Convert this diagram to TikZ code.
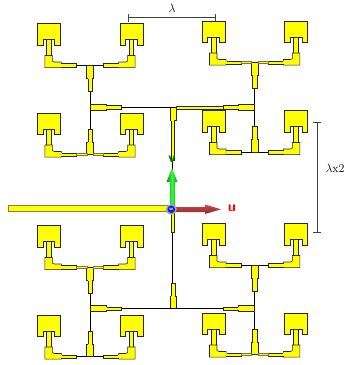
\documentclass[tikz,border=0pt]{standalone}
\usepackage{amsmath}
\usepackage{xcolor}
\usepackage{tikz}
\definecolor{patch}{rgb}{1.0, 1.0, 0.0}
\definecolor{axisv}{rgb}{0.13, 0.72, 0.25}
\definecolor{axisu}{rgb}{0.78, 0.22, 0.22}
\definecolor{axisw}{rgb}{0.05, 0.15, 0.85}
\definecolor{dimline}{rgb}{0.25, 0.25, 0.25}
\tikzset{
	copper/.style={fill=patch, draw=black!85, line width=0.55pt, line join=miter},
	wire/.style={draw=black, line width=0.9pt},
	dimension/.style={draw=dimline, line width=0.8pt},
	% one patch with its feed and corner, left hand version
	element/.pic={
		\path[copper] (-11.5,-41.5) -- (11.5,-41.5) -- (11.5,-20) -- (5.8,-20) -- (5.8,-25.5)
			-- (-5.8,-25.5) -- (-5.8,-20) -- (-11.5,-20) -- cycle;
		\path[copper] (-2.4,-25.5) rectangle (2.4,-9);
		\path[copper] (-3.9,-9.5) -- (3.6,-9.5) -- (3.6,-4) -- (5.5,-3) -- (12.7,-3)
			-- (12.7,2.7) -- (-3.9,2.7) -- cycle;
		\path[copper] (12.7,-1.7) rectangle (27.7,1.9);
		\fill[patch] (12.2,-1.4) rectangle (13.2,1.6);
		\draw[wire] (27.7,0) -- (41.3,0);
	},
	% four elements, two rows, stem in the middle
	subarray/.pic={
		\draw[wire] (0,0) -- (0,89.5);
		\path (-41.3,0) pic {element};
		\path (41.3,0) pic[xscale=-1] {element};
		\path (-41.3,89.5) pic {element};
		\path (41.3,89.5) pic[xscale=-1] {element};
		% stem sections
		\path[copper] (-2.2,12) rectangle (2.2,26);
		\path[copper] (-3.3,0) rectangle (3.3,13);
		\fill[patch] (-1.9,12.5) rectangle (1.9,13.5);
		\path[copper] (-2.2,64) rectangle (2.2,78);
		\path[copper] (-3.3,77) rectangle (3.3,89.5);
		\fill[patch] (-1.9,76.5) rectangle (1.9,77.5);
	},
	% stub from the stem to the center feed
	stub/.pic={
		\path[copper] (15,-1.8) rectangle (31,1.8);
		\path[copper] (0,-3) rectangle (16,3);
		\fill[patch] (15.5,-1.5) rectangle (16.5,1.5);
	},
	% yellow trace over a row wire
	rowtrace/.style={copper, draw=black!60!yellow, line width=0.4pt},
}
\begin{document}
\begin{tikzpicture}[x=1pt, y=-1pt]
\useasboundingbox (0,0) rectangle (346,365);
\fill[white] (0,0) rectangle (346,365);

% center feed
\draw[wire] (172.8,107) -- (172.8,308.5);
\path[copper] (171,120) rectangle (174.6,160);
\path[copper] (171.4,212) rectangle (174.2,232);
\path[copper] (170.8,283) rectangle (174.8,297);
\path[copper] (169.8,296) rectangle (175.8,308.5);
\path[copper] (169.8,107) rectangle (175.8,120);
\fill[patch] (171.3,119.5) rectangle (174.3,120.5);
\fill[patch] (171.1,295.5) rectangle (174.5,297);

% horizontal lines to the subarrays
\draw[wire] (90,107.5) -- (254.7,107.5);
\draw[wire] (90,308.7) -- (254.7,308.7);
\path[copper] (176,105.9) rectangle (224,109.1);

% subarrays
\path (90,65) pic {subarray};
\path (254.7,62.5) pic {subarray};
\path (90,267) pic {subarray};
\path (254.7,265) pic {subarray};

% rows that stay yellow up to the tee
\path[rowtrace] (76.4,153.5) rectangle (86.7,155.5);
\path[rowtrace] (93.3,153.5) rectangle (103.6,155.5);
\path[rowtrace] (241,61.5) rectangle (251.4,63.5);
\path[rowtrace] (258,61.5) rectangle (268.4,63.5);
\path[rowtrace] (76.4,266) rectangle (86.7,268);
\path[rowtrace] (93.3,266) rectangle (103.6,268);
\path[rowtrace] (241,353.5) rectangle (251.4,355.5);
\path[rowtrace] (258,353.5) rectangle (268.4,355.5);

% stubs
\path (90,107.5) pic {stub};
\path (254.7,107.5) pic[xscale=-1] {stub};
\path (90,308.7) pic {stub};
\path (254.7,308.7) pic[xscale=-1] {stub};

% main feed
\path[copper, draw=black!55!yellow] (8,205.6) rectangle (168,210.8);

% axis arrows
\shade[left color=axisv!70!black, right color=axisv!70!black, middle color=green!80!white]
	(170,208) -- (170,182) -- (166.5,182) -- (172,168) -- (177.5,182) -- (175,182) -- (175,208) -- cycle;
\shade[top color=axisu!90!white, bottom color=axisu!70!black]
	(172,207) -- (205,207) -- (205,204.5) -- (221,209.3) -- (205,214) -- (205,212) -- (172,212) -- cycle;
\fill[gray!70] (171.3,209.3) circle (5.5);
\fill[axisw] (171.3,209.3) circle (3.8);
\node[text=white, font=\sffamily\bfseries, scale=0.5] (labelw) at (171.3,209) {w};
\node[text=green!50!black, font=\sffamily\bfseries, scale=1.45] (labelv) at (172,159.5) {v};
\node[text=red, font=\sffamily\bfseries, scale=1.45] (labelu) at (232,208) {u};

% dimensions
\draw[dimension] (128,14) -- (128,22);
\draw[dimension] (215,14) -- (215,22);
\draw[dimension] (128,17.5) -- (215,17.5);
\draw[dimension] (313,122.5) -- (321,122.5);
\draw[dimension] (313,232.5) -- (321,232.5);
\draw[dimension] (317,122.5) -- (317,232.5);
\node[font=\fontsize{12}{14}\selectfont] (labellambda) at (172,8) {$\lambda$};
\node[font=\fontsize{12}{14}\selectfont] (labeltwo) at (335,168) {$\lambda$x2};
\end{tikzpicture}
\end{document}
